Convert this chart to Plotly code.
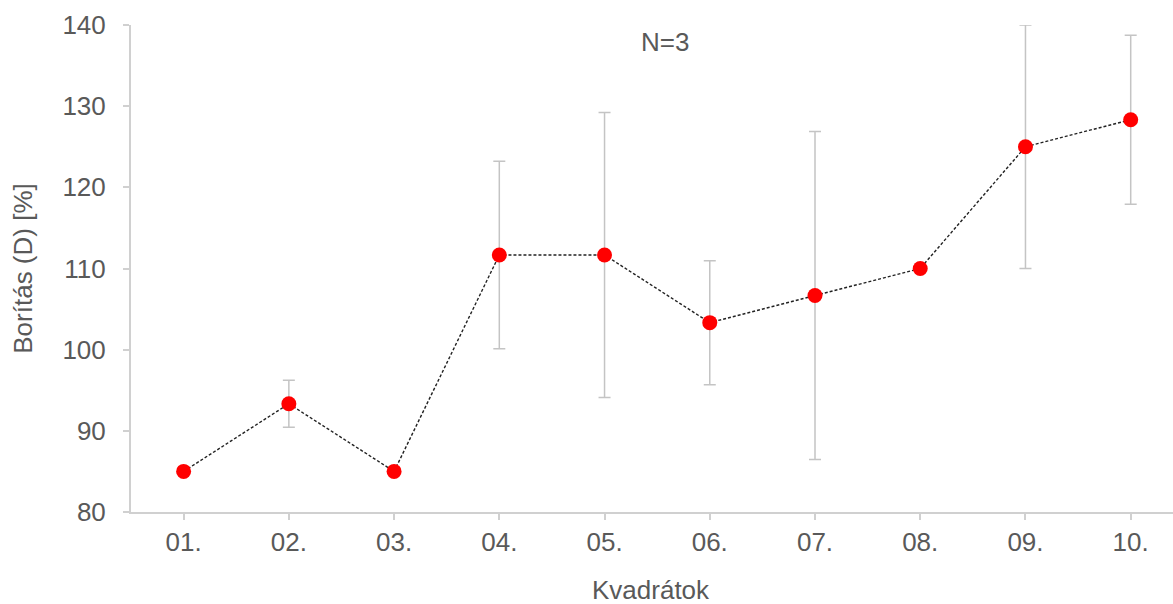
import plotly.graph_objects as go

categories = ["01.", "02.", "03.", "04.", "05.", "06.", "07.", "08.", "09.", "10."]
values = [85.0, 93.33, 85.0, 111.67, 111.67, 103.33, 106.67, 110.0, 125.0, 128.33]
errors = [0.0, 2.89, 0.0, 11.55, 17.56, 7.64, 20.21, 0.0, 15.0, 10.41]
y_ticks = [80, 90, 100, 110, 120, 130, 140]

FONT = "Liberation Sans, Arial, sans-serif"
GREY_TXT = "#595959"
GREY_AX = "#d0d0d0"
FS = 26

fig = go.Figure()
fig.add_trace(go.Scatter(
    x=categories, y=values,
    mode="lines+markers",
    line=dict(color="#222222", width=1.4, dash="3px,2px"),
    marker=dict(color="#ff0000", size=15),
    error_y=dict(type="data", array=errors, visible=True,
                 color="#c4c4c4", thickness=1.5, width=6),
    showlegend=False,
))

fig.add_annotation(text="N=3", xref="paper", yref="paper", x=0.512, y=1.0,
                   xanchor="center", yanchor="middle", yshift=-17, showarrow=False,
                   font=dict(family=FONT, size=FS, color=GREY_TXT))
# x-axis title
fig.add_annotation(text="Kvadrátok", xref="paper", yref="paper", x=0.499, y=0.0,
                   xanchor="center", yanchor="middle", yshift=-78, showarrow=False,
                   borderpad=0,
                   font=dict(family=FONT, size=FS, color=GREY_TXT))

fig.update_layout(
    width=1173, height=604,
    margin=dict(l=131, r=0, t=25, b=92, autoexpand=False),
    paper_bgcolor="white", plot_bgcolor="white",
    font=dict(family=FONT, size=FS, color=GREY_TXT),
)
fig.update_xaxes(
    type="category", range=[-0.5, 9.402],
    showline=True, linecolor=GREY_AX, linewidth=2,
    ticks="outside", ticklen=6, tickcolor=GREY_AX, tickwidth=2,
    showgrid=False, zeroline=False,
    tickfont=dict(family=FONT, size=FS, color=GREY_TXT),
    ticklabelstandoff=0,
)
fig.update_yaxes(
    range=[80, 140], tickvals=y_ticks,
    showline=True, linecolor=GREY_AX, linewidth=2,
    ticks="outside", ticklen=6, tickcolor=GREY_AX, tickwidth=2,
    showgrid=False, zeroline=False,
    tickfont=dict(family=FONT, size=FS, color=GREY_TXT),
    ticklabelstandoff=12,
    title=dict(text="Borítás (D) [%]", standoff=22, font=dict(family=FONT, size=FS, color=GREY_TXT)),
)

fig.write_html("out.html", config={"displayModeBar": False})

# remove the browser's default page margin so the figure sits at the window corner
with open("out.html", "r", encoding="utf-8") as f:
    html = f.read()
html = html.replace("<head>", "<head><style>html,body{margin:0;padding:0;overflow:hidden;}</style>", 1)
with open("out.html", "w", encoding="utf-8") as f:
    f.write(html)
